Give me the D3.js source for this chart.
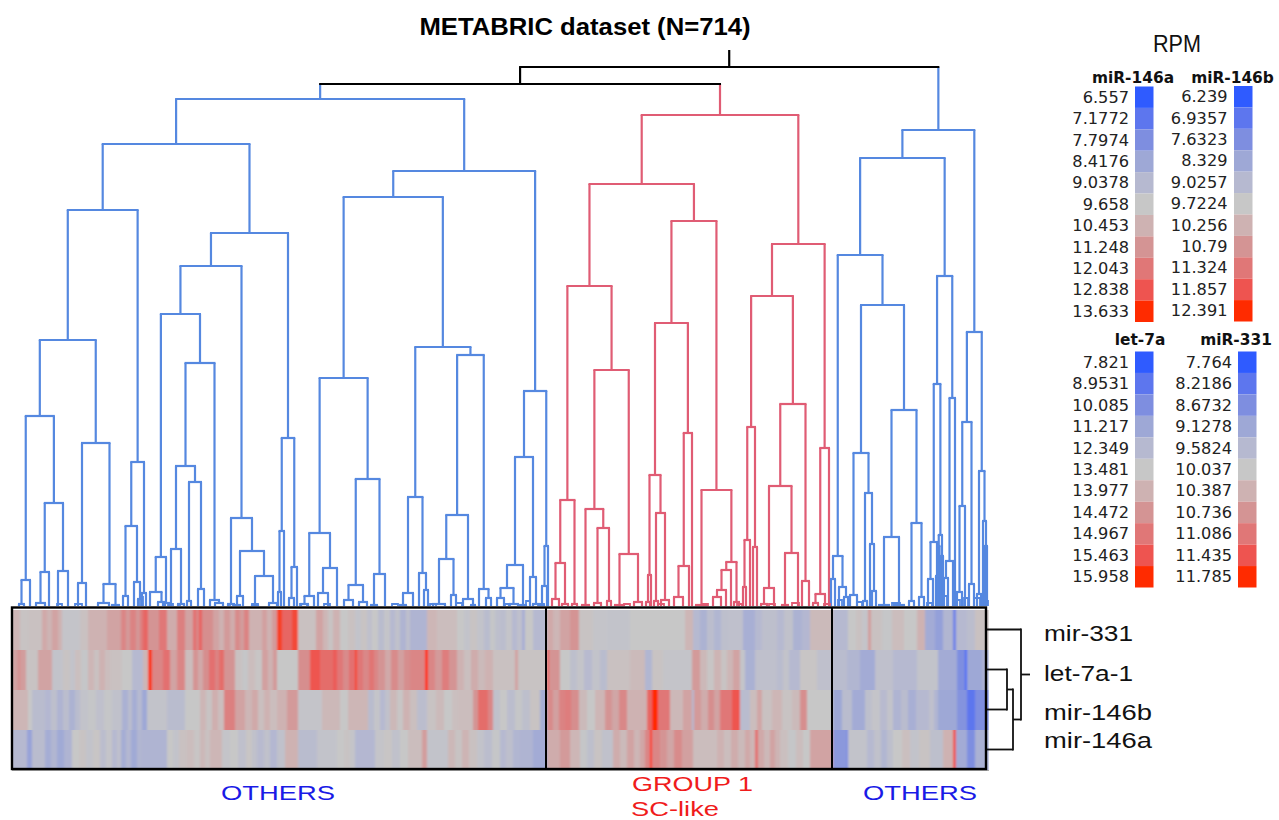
<!DOCTYPE html>
<html lang="en">
<head>
<meta charset="utf-8">
<title>METABRIC dataset</title>
<script src="https://d3js.org/d3.v7.js"></script>
<style>
  html, body { margin: 0; background: #fff; }
  svg { display: block; }
</style>
</head>
<body>
<div id="my_dataviz"></div>

<script>
// ---- data ----

// dendrogram nodes are [height, left, right], a plain number is a leaf position (0-975 along the sample order)
const blueLeft = [507,
  [462,
    [396,
      [266,
        [190, [26, [2, 7, 12], 18], [103, [34, [3, 24, 33], 37], [35, 46, 56]]],
        [163, [23, 66, 74], [22, [3, 86, 97], [1, 100, 107]]]],
      [144, [80, [10, 111, 116], [24, 122, [7, 126, 130]]], [13, 130, 134]]],
    [373,
      [340,
        [292,
          [49, [14, 138, [4, 146, 153]], [3, 151, 157]],
          [243,
            [140, [57, 159, [2, 166, 172]], [124, [5, 175, 179], [17, 186, 192]]],
            [6, 198, [3, 203, 211]]]],
        [88, [2, 216, 222], [55, [10, [1, 222, 228], 231], [30, [1, 240, 246], [3, 257, 265]]]]],
      [168, [75, [14, 266, 269], 272], [39, [8, 277, 282], 285]]]],
  [435,
    [409,
      [228,
        [73, [10, [2, 289, 296], 302], [38, [13, 306, 316], 325]],
        [127, [21, [6, 332, 341], [4, 347, 355]], [32, [1, 359, 365], 373]]],
      [259,
        [109, [13, [1, 388, 394], 401], [33, 407, [16, 412, 416]]],
        [251,
          [91, [47, [2, 421, 433], [11, 439, 444]], [7, 451, [1, 459, 463]]],
          [17, 467, [8, 474, 479]]]]],
    [215,
      [149, [41, [18, [8, 485, 492], [2, 497, 506]], [1, 508, 514]], [29, 518, [2, 521, 527]]],
      [60, [20, [1, 528, 532], 535], 536]]]];

const redGroup = [491,
  [422,
    [320,
      [106, [43, [7, 540, 547], [2, 550, 556]], [2, 560, 565]],
      [236,
        [97, [1, 570, 577], [78, [3, 582, 589], [5, 595, 599]]],
        [52, [1, 603, 612], [4, 622, 630]]]],
    [385,
      [283,
        [131, [31, [4, 634, 638], 639], [93, [5, 642, 646], [6, 649, 657]]],
        [173, [40, [9, 662, 671], 677], 680]],
      [116,
        [1, 684, 695],
        [44, [36, [16, [9, 701, 709], 714], 719], [4, 722, 727]]]]],
  [362,
    [310,
      [179, [66, [19, 731, 734], 738], [59, 741, 745]],
      [202,
        [120, [18, [2, 749, 755], 762], [53, [1, 770, 776], 786]],
        [25, 790, 797]]],
    [158, [12, [3, 801, 806], 813], 817]]];

const blueRight = [476,
  [448,
    [351,
      [50, [27, 819, 823], [19, 827, [9, 832, 836]]],
      [301,
        [153, [11, 838, 845], [113, [5, 851, 855], [62, 858, [15, 860, 864]]]],
        [196,
          [69, [1, 867, 877], [1, 882, 892]],
          [83, [5, 897, 902], [9, 907, 912]]]]],
    [330,
      [222, [64, [27, 916, 921], [30, 924, 926]], [71, [60, 926, 927.5], [50, 929, 931]]],
      [208, [45, [28, 932, 936], 941], 943]]],
  [274,
    [184, [100, [14, 945, 950], 953], [22, 957, 962]],
    [135, [12, 965, 969], [85, 971, [60, 973, 975]]]]];

const dendroRoot = [539, [522, blueLeft, redGroup], blueRight];
const rootStemHeight = 556;

// little clusters at the foot of the tree that hang off no branch I could follow, [height, a, b]
const blueTufts = [[2,45,50],[2,63,70],[9,128,131],[2,156,161],[2,168,172],[2,218,221],[2,240,246],[2,288,295],[2,312,318],[2,380,386],[2,418,424],[3,444,450],[2,493,498],[5,514,518],[2,526,532],[6,826,830],[4,845,850],[3,880,888],[3,915,920],[10,930,935],[6,942,948],[8,952,956],[8,962,968],[5,975,976]];
const redTufts = [[2,612,618],[2,646,652],[2,690,696],[2,725,730],[2,757,763],[3,780,787],[2,812,818]];

// gene tree on the right of the heatmap, [distance, a, b] with gene names as leaves
const geneTree = [34, "mir-331", [26, [20, "let-7a-1", "mir-146b"], "mir-146a"]];
const geneRootStem = 43;

const genes = ["mir-331", "let-7a-1", "mir-146b", "mir-146a"];

// heatmap runs per gene, [start position, colour level -5..5]
const mir331 = [[0,.8],[8,.2],[16,.3],[30,1.3],[35,.9],[40,1.5],[46,1],[50,-.2],[68,.3],[76,1],[95,1.5],[109,2.5],[114,1.8],[118,2.6],[124,1.9],[128,2.8],[131,3.5],[136,2],[147,3],[155,1.2],[165,2.7],[173,1.5],[181,3.2],[184,2.5],[187,3.6],[190,2.2],[201,1.5],[207,1],[212,1.8],[218,1.2],[223,2.3],[228,1.7],[232,2.6],[237,1],[250,1.6],[255,1],[260,1.8],[265,4.5],[270,3.5],[280,4.3],[286,.3],[304,1.5],[311,.8],[316,.2],[321,1],[328,0],[336,.3],[343,-.3],[349,.2],[355,-.5],[360,0],[366,-.8],[372,-.2],[378,-1],[383,-.4],[388,-1.3],[394,-.6],[398,-1.3],[415,.8],[425,.5],[445,0],[452,-.3],[458,.2],[465,-.3],[472,-.8],[478,-.1],[483,-.6],[488,-.7],[494,-.2],[500,-1],[505,-.5],[510,-1.6],[513,0],[521,-1],[535,1.3],[541,.8],[548,1.5],[558,2],[567,.2],[581,-.2],[595,-.3],[618,0],[673,.8],[681,-1],[688,-1.4],[695,-.7],[702,-1.2],[709,-.6],[716,-.5],[731,-1.6],[743,-1],[750,-.6],[758,-.6],[765,-1],[772,-.4],[781,-1.4],[790,-1.1],[798,.6],[821,-1],[836,0],[844,.3],[850,-.2],[856,1.7],[859,.3],[870,-.1],[880,.5],[892,0],[905,1],[913,-1.8],[923,-2.3],[931,-1.2],[941,-3.5],[944,-1],[955,-.7],[963,.3]];
const let7a = [[0,1.5],[5,2],[9,1.7],[14,.2],[26,1.5],[40,-.3],[51,.2],[58,-.3],[63,.4],[69,-.1],[76,.8],[82,.3],[87,1],[93,.5],[98,.3],[110,0],[120,-1],[131,.8],[136,4.7],[140,2.5],[151,3.2],[158,1.5],[165,2.5],[173,.5],[181,2],[186,1.3],[191,2.2],[197,3.2],[203,2.6],[207,3.3],[212,2],[223,.3],[230,-.1],[236,.5],[243,.1],[250,1.6],[256,1],[261,1.8],[265,0],[286,2.2],[298,4],[308,3.3],[321,3.8],[325,3],[331,2.3],[337,3.2],[343,4.5],[345,3],[351,2.4],[357,3.1],[362,2.5],[366,2],[373,1.3],[379,2.3],[386,1.6],[392,2.2],[398,2.5],[413,5],[416,2.5],[423,1.8],[430,2.8],[437,2],[445,1],[452,.4],[459,1.2],[466,.6],[473,1],[481,.3],[503,1.5],[506,.2],[535,4],[537,2],[548,0],[558,-.6],[565,-.2],[572,-.9],[580,-.3],[588,-.8],[595,.3],[618,.6],[633,-1.2],[640,.2],[651,-.2],[680,1.8],[688,.7],[695,.1],[702,.9],[709,.2],[715,.8],[721,1.5],[728,-.2],[733,-1.5],[743,-.5],[765,-.8],[771,-.3],[777,-1],[788,.1],[805,-.5],[821,-.8],[835,-1.2],[848,-1.8],[863,-.5],[881,-1],[905,-.3],[926,-1.8],[945,-3],[953,-4.5],[955,-2],[970,-1.5]];
const mir146b = [[0,.8],[16,0],[20,-.8],[33,-1.1],[39,-.6],[45,-1.3],[51,-.7],[57,-1.4],[63,-.8],[68,-.3],[76,-.1],[84,-.5],[92,-.1],[100,-.4],[110,-1.5],[116,-.8],[120,-1.7],[125,-1],[130,-2],[135,-.3],[155,-.8],[173,0],[188,.8],[194,.2],[200,1.1],[206,.5],[212,2.7],[223,1.5],[233,.8],[240,1.3],[246,.4],[252,1],[258,.5],[265,1],[275,1.8],[286,-.2],[310,.7],[328,0],[336,.8],[356,-.8],[362,-.2],[368,-1],[373,-.4],[378,.7],[385,.1],[391,1],[398,.4],[405,-.7],[415,.2],[424,.6],[432,0],[440,.4],[446,.5],[461,2],[466,3.3],[476,2.5],[481,-.4],[488,0],[495,-.7],[503,-.1],[510,-.6],[518,.2],[528,-1.7],[535,2.3],[541,1.6],[547,2.6],[553,2.8],[559,2.2],[567,.6],[575,0],[583,.8],[593,2],[600,1.4],[607,2.4],[615,1],[635,3.5],[640,5],[646,3],[658,.7],[671,1.5],[680,-1],[682,1.8],[689,1.2],[696,2.2],[702,1.5],[708,3],[720,4],[728,-.8],[738,.5],[745,1.4],[750,.3],[760,.8],[770,.2],[780,.6],[788,2.2],[795,0],[821,-2],[830,-.8],[840,-1.8],[853,-.6],[860,-.2],[868,-.9],[875,-.3],[881,-1.3],[889,-.8],[896,-1.6],[904,-1],[911,-1],[917,-.5],[922,-1.2],[926,-2],[945,-2.8],[955,-4],[963,-3]];
const mir146a = [[0,-1],[15,-2.2],[20,-.8],[33,-1.7],[39,-1.2],[45,-1.9],[52,-1.3],[60,0],[67,.2],[74,-.3],[81,.1],[88,-.7],[94,-.2],[100,-1],[105,-.5],[109,-1.7],[114,-1.1],[119,-1.9],[125,-1.2],[130,-1.3],[155,0],[161,-.3],[167,.3],[175,.5],[182,.1],[188,.7],[193,.3],[198,.8],[210,-.2],[218,0],[226,-.5],[234,.1],[240,-.4],[245,-.9],[252,-.4],[258,-1.1],[265,-.4],[273,1],[286,-.8],[305,-.3],[325,0],[332,.2],[338,-.2],[343,-1.1],[363,-.2],[372,.1],[380,-.4],[388,0],[396,.5],[410,1.7],[415,-.3],[436,.7],[443,.2],[450,.9],[457,.3],[465,-.3],[472,-.7],[480,-.1],[488,-1],[494,-.6],[501,-1.2],[508,-1.3],[521,-1.8],[535,1.2],[548,1.8],[558,.8],[568,-.1],[575,-.6],[582,.2],[590,-.4],[601,1.2],[608,.6],[615,1.5],[622,.8],[628,1.4],[633,2.5],[638,5],[640,2.5],[648,2],[655,1.4],[662,2.3],[670,1.6],[681,.5],[705,1],[712,.5],[719,1.2],[726,.6],[733,1.3],[738,.8],[743,3.2],[746,1.3],[752,.7],[758,1.5],[763,.9],[768,.4],[776,-.1],[784,.5],[791,0],[798,1.5],[821,-2.6],[835,-3.5],[836,-.3],[855,-1],[862,-.4],[869,-1.2],[875,-.6],[881,0],[890,.4],[898,-.3],[907,.2],[918,-.6],[931,1],[941,4],[944,-1.8],[955,-3],[963,-1.5]];
const heatRows = [mir331, let7a, mir146b, mir146a];
const groupBreaks = [534, 820];

// legend
const levels = [-5, -4, -3, -2, -1, 0, 1, 2, 3, 4, 5];
const levelColors = ["#2f5bff", "#5d76ee", "#7e8ee0", "#9ea8d6", "#b6b9d0", "#c7c7c7", "#ceb2b2", "#d49494", "#e07777", "#ee5450", "#ff2b00"];
const legendNames = ["miR-146a", "miR-146b", "let-7a", "miR-331"];
const ticks146a = ["6.557", "7.1772", "7.7974", "8.4176", "9.0378", "9.658", "10.453", "11.248", "12.043", "12.838", "13.633"];
const ticks146b = ["6.239", "6.9357", "7.6323", "8.329", "9.0257", "9.7224", "10.256", "10.79", "11.324", "11.857", "12.391"];
const ticksLet7a = ["7.821", "8.9531", "10.085", "11.217", "12.349", "13.481", "13.977", "14.472", "14.967", "15.463", "15.958"];
const ticks331 = ["7.764", "8.2186", "8.6732", "9.1278", "9.5824", "10.037", "10.387", "10.736", "11.086", "11.435", "11.785"];
const legendTicks = [ticks146a, ticks146b, ticksLet7a, ticks331];

// ---- layout ----
const width = 1279, height = 820;
const blue = "#5588e0", red = "#e05c74";

const svg = d3.select("#my_dataviz")
  .append("svg")
    .attr("width", width)
    .attr("height", height);

const x = d3.scaleLinear().domain([0, 975]).range([12, 987]);
const y = d3.scaleLinear().domain([0, 556]).range([606, 50]);
const rowY = d3.scaleBand().domain(genes).range([609.5, 769.5]);
const geneX = d3.scaleLinear().domain([0, 43]).range([987, 1030]);
const heatColor = d3.scaleLinear().domain(levels).range(levelColors);

const sansFont = "'Liberation Sans', Arial, sans-serif";
const legendFont = "'DejaVu Sans', sans-serif";

// soft horizontal blur, the stripes run into each other in the original
const defs = svg.append("defs");
defs.append("filter")
    .attr("id", "soft")
    .attr("x", "0%").attr("width", "100%")
    .attr("y", "0%").attr("height", "100%")
  .append("feGaussianBlur")
    .attr("stdDeviation", "0.9 0");

// ---- sample dendrogram ----
const clusterColor = new Map([[blueLeft, blue], [redGroup, red], [blueRight, blue]]);

const tree = d3.hierarchy(dendroRoot, d => Array.isArray(d) ? d.slice(1) : null);
tree.eachAfter(d => {
  d.pos = d.children ? d3.mean(d.children, c => c.pos) : d.data;
  d.h = d.children ? d.data[0] : 0;
});
tree.eachBefore(d => {
  d.color = clusterColor.get(d.data) || (d.parent ? d.parent.color : "#000");
});

const dendro = svg.append("g").attr("fill", "none").attr("stroke-width", 2.2);

// legs go in the colour of the child, bars in the colour of the node
dendro.selectAll("path.leg")
  .data(tree.links())
  .join("path")
    .attr("class", "leg")
    .attr("stroke", d => d.target.color)
    .attr("d", d => `M${x(d.target.pos)},${y(d.target.h)}V${y(d.source.h)}`);

dendro.selectAll("path.bar")
  .data(tree.descendants().filter(d => d.children))
  .join("path")
    .attr("class", "bar")
    .attr("stroke", d => d.color)
    .attr("d", d => `M${x(d.children[0].pos) - 1},${y(d.h)}H${x(d.children[1].pos) + 1}`);

dendro.append("path")
  .attr("stroke", "#000")
  .attr("d", `M${x(tree.pos)},${y(tree.h)}V${y(rootStemHeight)}`);

dendro.selectAll("path.tuft")
  .data(blueTufts.map(d => [d, blue]).concat(redTufts.map(d => [d, red])))
  .join("path")
    .attr("class", "tuft")
    .attr("stroke", d => d[1])
    .attr("stroke-width", 1.8)
    .attr("d", ([d]) => `M${x(d[1])},${y(0)}V${y(d[0])}H${x(d[2])}V${y(0)}`);

// ---- heatmap ----
const heatEnd = 977;
const heat = svg.append("g").attr("filter", "url(#soft)");

heatRows.forEach((row, i) => {
  heat.selectAll(`rect.r${i}`)
    .data(row)
    .join("rect")
      .attr("class", `r${i}`)
      .attr("shape-rendering", "crispEdges")
      .attr("x", d => x(d[0]))
      .attr("y", rowY(genes[i]))
      .attr("width", (d, j) => x(j + 1 < row.length ? row[j + 1][0] : heatEnd) - x(d[0]))
      .attr("height", rowY.bandwidth())
      .attr("fill", d => heatColor(d[1]));
});

svg.append("line")
  .attr("x1", x(0)).attr("x2", x(977))
  .attr("y1", 770.5).attr("y2", 770.5)
  .attr("stroke", "#aaa")
  .attr("stroke-width", 1);

svg.append("rect")
  .attr("x", x(0))
  .attr("y", 607.5)
  .attr("width", x(974) - x(0))
  .attr("height", 161.5)
  .attr("fill", "none")
  .attr("stroke", "#000")
  .attr("stroke-width", 2.4);

svg.selectAll("line.brk")
  .data(groupBreaks)
  .join("line")
    .attr("class", "brk")
    .attr("x1", d => x(d))
    .attr("x2", d => x(d))
    .attr("y1", 607.5)
    .attr("y2", 769)
    .attr("stroke", "#000")
    .attr("stroke-width", 2);

// ---- gene dendrogram and labels ----
const genesTree = d3.hierarchy(geneTree, d => Array.isArray(d) ? d.slice(1) : null);
genesTree.eachAfter(d => {
  d.mid = d.children ? d3.mean(d.children, c => c.mid) : rowY(d.data) + rowY.bandwidth() / 2;
  d.dist = d.children ? d.data[0] : 0;
});

const geneLines = svg.append("g").attr("fill", "none").attr("stroke", "#111").attr("stroke-width", 1.8);
geneLines.selectAll("path")
  .data(genesTree.links())
  .join("path")
    .attr("d", d => `M${geneX(d.target.dist)},${d.target.mid}H${geneX(d.source.dist)}`);
geneLines.selectAll("path.spine")
  .data(genesTree.descendants().filter(d => d.children))
  .join("path")
    .attr("class", "spine")
    .attr("d", d => `M${geneX(d.dist)},${d.children[0].mid - 1}V${d.children[1].mid + 1}`);
geneLines.append("path")
  .attr("d", `M${geneX(genesTree.dist)},${genesTree.mid}H${geneX(geneRootStem)}`);

const geneLabelY = [641, 681, 720, 748];
const geneLabelW = [89, 89, 108, 108];
svg.selectAll("text.gene")
  .data(genes)
  .join("text")
    .attr("class", "gene")
    .attr("x", 1044)
    .attr("y", (d, i) => geneLabelY[i])
    .attr("textLength", (d, i) => geneLabelW[i])
    .attr("lengthAdjust", "spacingAndGlyphs")
    .attr("font-family", sansFont)
    .attr("font-size", 22)
    .attr("fill", "#111")
    .text(d => d);

// ---- titles and group labels ----
svg.append("text")
  .attr("x", 585).attr("y", 35)
  .attr("text-anchor", "middle")
  .attr("font-family", sansFont)
  .attr("font-weight", "bold")
  .attr("font-size", 24)
  .attr("textLength", 331)
  .attr("lengthAdjust", "spacingAndGlyphs")
  .attr("fill", "#000")
  .text("METABRIC dataset (N=714)");

svg.append("text")
  .attr("x", 1177).attr("y", 52)
  .attr("text-anchor", "middle")
  .attr("font-family", sansFont)
  .attr("font-size", 23)
  .attr("textLength", 48)
  .attr("lengthAdjust", "spacingAndGlyphs")
  .attr("fill", "#111")
  .text("RPM");

const groupLabels = [
  {text: "OTHERS", x: 221, y: 800, w: 114, color: "#1a1ae6"},
  {text: "OTHERS", x: 863, y: 800, w: 114, color: "#1a1ae6"},
  {text: "GROUP 1", x: 632, y: 791, w: 121, color: "#f01c1c"},
  {text: "SC-like", x: 631, y: 815.5, w: 88, color: "#f01c1c"}
];
svg.selectAll("text.group")
  .data(groupLabels)
  .join("text")
    .attr("class", "group")
    .attr("x", d => d.x)
    .attr("y", d => d.y)
    .attr("textLength", d => d.w)
    .attr("lengthAdjust", "spacingAndGlyphs")
    .attr("font-family", sansFont)
    .attr("font-size", 20)
    .attr("fill", d => d.color)
    .text(d => d.text);

// ---- colour legends ----
const legendLayout = [
  {swatch: 1135, sw: 18.5, top: 86.5, bottom: 322, label: 1129, title: 1133, titleY: 83},
  {swatch: 1234, sw: 18.5, top: 86, bottom: 321.5, label: 1227.5, title: 1232.5, titleY: 83},
  {swatch: 1135, sw: 18.5, top: 351.5, bottom: 587.5, label: 1129, title: 1140, titleY: 345},
  {swatch: 1238, sw: 18.5, top: 351.5, bottom: 587.5, label: 1232, title: 1236, titleY: 345}
];

legendLayout.forEach((l, k) => {
  const band = d3.scaleBand().domain(levels).range([l.top, l.bottom]);
  const g = svg.append("g");

  g.append("text")
    .attr("x", l.title).attr("y", l.titleY)
    .attr("text-anchor", "middle")
    .attr("font-family", legendFont)
    .attr("font-weight", "bold")
    .attr("font-size", 15.4)
    .attr("fill", "#111")
    .text(legendNames[k]);

  g.selectAll("rect")
    .data(levels)
    .join("rect")
      .attr("x", l.swatch)
      .attr("y", d => band(d))
      .attr("width", l.sw)
      .attr("height", band.bandwidth())
      .attr("fill", d => heatColor(d));

  g.selectAll("text.tick")
    .data(levels)
    .join("text")
      .attr("class", "tick")
      .attr("x", l.label)
      .attr("y", d => band(d) + band.bandwidth() / 2 + 5.5)
      .attr("text-anchor", "end")
      .attr("font-family", legendFont)
      .attr("font-size", 16.2)
      .attr("fill", "#222")
      .text((d, i) => legendTicks[k][i]);
});
</script>
</body>
</html>
